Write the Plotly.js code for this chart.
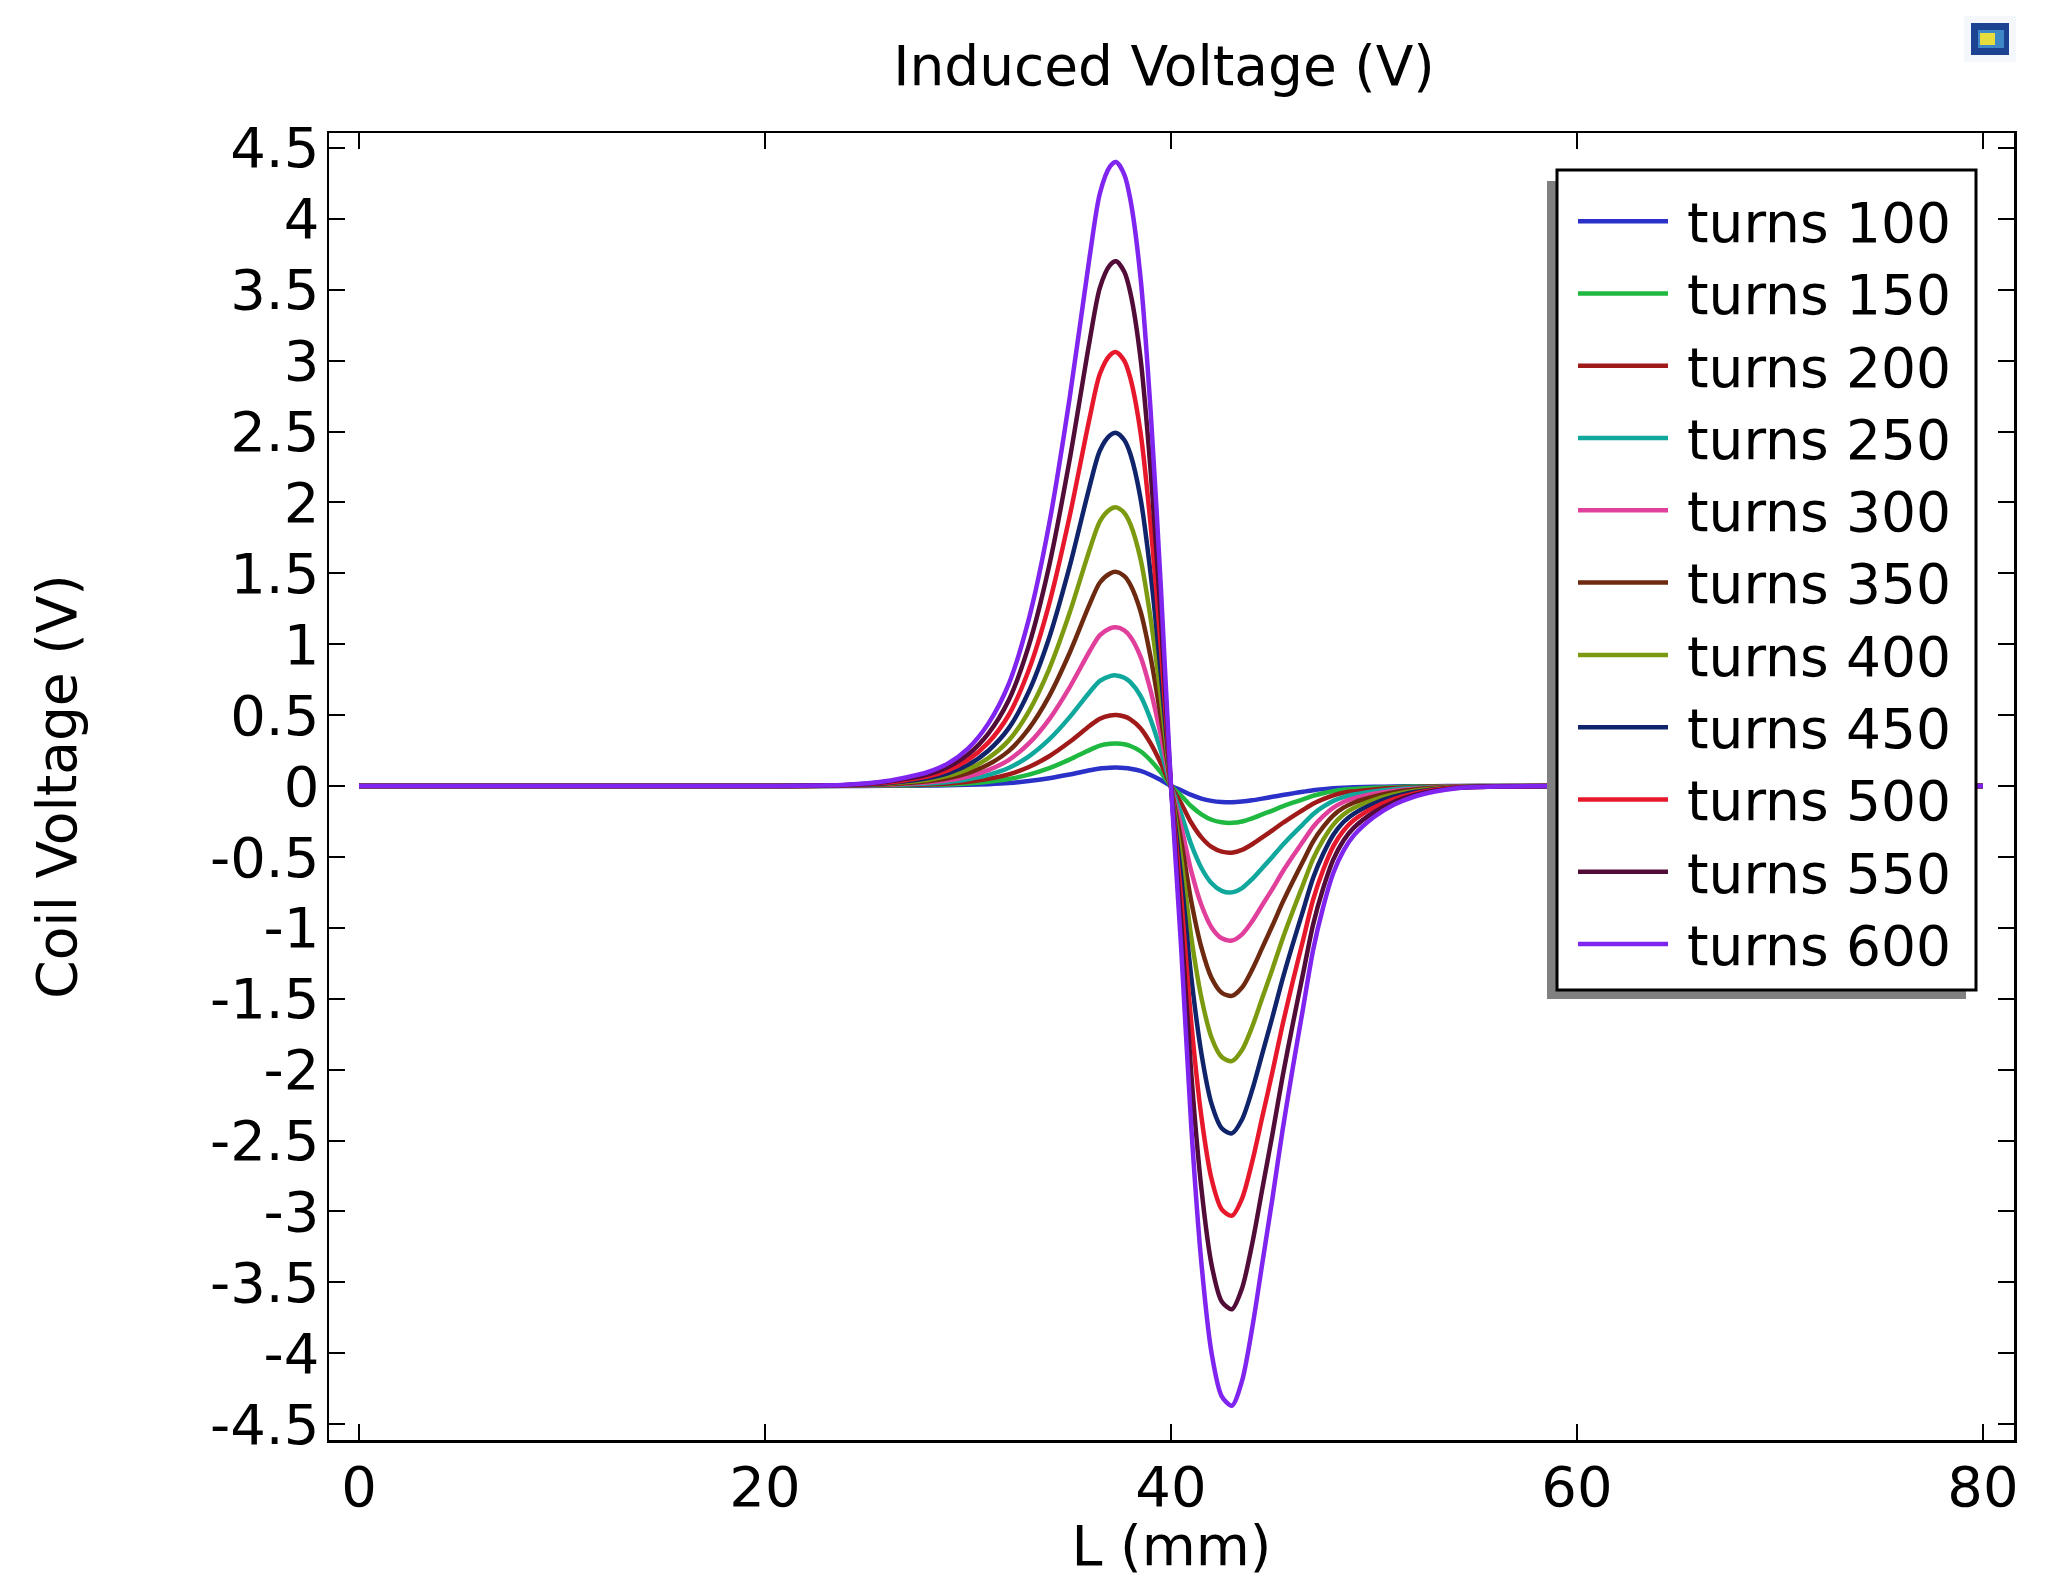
<!DOCTYPE html>
<html>
<head>
<meta charset="utf-8">
<script src="https://cdn.plot.ly/plotly-3.0.1.min.js"></script>
<style>html,body{margin:0;padding:0;background:#fff}#chart{width:2070px;height:1594px}</style>
</head>
<body>
<div id="chart"></div>
<script>
const L_mm = [0,10,20,24,26,27,28,29,30,31,32,33,34,35,36,36.5,37,37.3,37.7,38,38.5,39,39.5,40,40.5,41,41.5,42,42.5,43,43.5,44,44.5,45,45.5,46,46.5,47,47.5,48,48.5,49,50,51,52,53,54,56,60,70,80];

const turns100 = [0,0,0,0,.001,.002,.003,.005,.008,.013,.021,.035,.055,.081,.111,.124,.129,.13,.127,.122,.106,.078,.042,0,-.03,-.063,-.089,-.105,-.113,-.115,-.11,-.101,-.089,-.076,-.064,-.052,-.041,-.03,-.022,-.016,-.012,-.009,-.006,-.003,-.002,-.001,0,0,0,0,0];
const turns150 = [0,0,0,.001,.002,.004,.007,.011,.018,.03,.049,.08,.126,.186,.255,.285,.298,.30,.294,.282,.245,.18,.096,0,-.068,-.143,-.20,-.238,-.256,-.26,-.25,-.228,-.20,-.173,-.144,-.118,-.094,-.069,-.051,-.036,-.026,-.021,-.013,-.008,-.004,-.002,-.001,0,0,0,0];
const turns200 = [0,0,0,.001,.004,.007,.011,.018,.03,.05,.082,.134,.21,.31,.425,.475,.497,.50,.49,.47,.408,.30,.16,0,-.122,-.259,-.362,-.43,-.463,-.47,-.451,-.411,-.362,-.313,-.261,-.214,-.169,-.125,-.092,-.066,-.047,-.038,-.024,-.014,-.008,-.004,-.002,0,0,0,0];
const turns250 = [0,0,0,.002,.006,.011,.017,.028,.047,.078,.127,.209,.328,.484,.663,.741,.775,.78,.764,.733,.636,.468,.25,0,-.195,-.413,-.578,-.686,-.739,-.75,-.72,-.656,-.578,-.499,-.416,-.341,-.27,-.199,-.146,-.105,-.078,-.06,-.038,-.023,-.013,-.007,-.003,-.001,0,0,0];
const turns300 = [0,0,0,.002,.009,.016,.025,.04,.067,.112,.183,.30,.47,.694,.952,1.064,1.112,1.12,1.098,1.053,.913,.672,.358,0,-.283,-.60,-.839,-.997,-1.074,-1.09,-1.046,-.954,-.839,-.725,-.605,-.496,-.392,-.289,-.213,-.153,-.113,-.087,-.055,-.033,-.019,-.01,-.004,-.001,0,0,0];
const turns350 = [0,0,0,.003,.012,.021,.033,.054,.091,.151,.246,.405,.634,.936,1.284,1.435,1.499,1.51,1.48,1.419,1.231,.906,.483,0,-.385,-.814,-1.14,-1.354,-1.458,-1.48,-1.421,-1.295,-1.14,-.984,-.821,-.673,-.533,-.392,-.289,-.207,-.153,-.118,-.074,-.044,-.025,-.013,-.006,-.001,0,0,0];
const turns400 = [0,0,0,.004,.016,.028,.043,.071,.118,.197,.32,.527,.825,1.218,1.67,1.867,1.951,1.965,1.926,1.847,1.601,1.179,.629,0,-.504,-1.067,-1.494,-1.775,-1.911,-1.94,-1.862,-1.698,-1.494,-1.29,-1.077,-.883,-.698,-.514,-.378,-.272,-.201,-.155,-.097,-.058,-.033,-.017,-.008,-.002,0,0,0];
const turns450 = [0,0,0,.005,.02,.035,.055,.09,.149,.249,.406,.667,1.046,1.544,2.117,2.366,2.473,2.49,2.44,2.341,2.029,1.494,.797,0,-.637,-1.348,-1.887,-2.242,-2.413,-2.45,-2.352,-2.144,-1.887,-1.629,-1.36,-1.115,-.882,-.649,-.478,-.343,-.254,-.196,-.123,-.074,-.042,-.022,-.01,-.002,0,0,0];
const turns500 = [0,0,0,.006,.024,.043,.067,.11,.184,.306,.499,.82,1.285,1.897,2.601,2.907,3.039,3.06,2.999,2.876,2.494,1.836,.979,0,-.788,-1.667,-2.333,-2.772,-2.985,-3.03,-2.909,-2.651,-2.333,-2.015,-1.682,-1.379,-1.091,-.803,-.591,-.424,-.315,-.242,-.152,-.091,-.052,-.027,-.012,-.003,0,0,0];
const turns550 = [0,0,0,.007,.03,.052,.081,.133,.222,.37,.603,.992,1.554,2.294,3.145,3.515,3.674,3.70,3.626,3.478,3.016,2.22,1.184,0,-.959,-2.03,-2.841,-3.376,-3.635,-3.69,-3.542,-3.229,-2.841,-2.454,-2.048,-1.679,-1.328,-.978,-.72,-.517,-.384,-.295,-.185,-.111,-.063,-.033,-.015,-.004,0,0,0];
const turns600 = [0,0,0,.009,.035,.062,.097,.158,.264,.44,.717,1.179,1.848,2.728,3.74,4.18,4.369,4.40,4.312,4.136,3.586,2.64,1.408,0,-1.136,-2.404,-3.365,-3.999,-4.304,-4.37,-4.195,-3.824,-3.365,-2.906,-2.425,-1.988,-1.573,-1.158,-.852,-.612,-.455,-.35,-.219,-.131,-.074,-.039,-.017,-.004,0,0,0];

const seriesNames = ['turns 100','turns 150','turns 200','turns 250','turns 300','turns 350','turns 400','turns 450','turns 500','turns 550','turns 600'];
const seriesValues = [turns100,turns150,turns200,turns250,turns300,turns350,turns400,turns450,turns500,turns550,turns600];
const seriesColors = ['#2a30c8','#1fb840','#a01a1a','#10a89c','#e0409c','#6e2a10','#7c9a10','#10246c','#e8182c','#520c38','#8024f0'];

const xTickVals = [0,20,40,60,80];
const xTickText = ['0','20','40','60','80'];
const yTickVals = [4.5,4,3.5,3,2.5,2,1.5,1,0.5,0,-0.5,-1,-1.5,-2,-2.5,-3,-3.5,-4,-4.5];
const yTickText = ['4.5','4','3.5','3','2.5','2','1.5','1','0.5','0','-0.5','-1','-1.5','-2','-2.5','-3','-3.5','-4','-4.5'];

const W = 2070, H = 1594, ml = 329, mr = 56, mt = 133, mb = 154;
const FONT = '"DejaVu Sans", sans-serif';
const px = v => (v - ml) / (W - ml - mr);
const py = v => 1 - (v - mt) / (H - mt - mb);
const box = (x0, y0, x1, y1, fill, line) => ({
  type:'rect', xref:'paper', yref:'paper', layer:'above',
  x0:px(x0), x1:px(x1), y0:py(y0), y1:py(y1),
  fillcolor:fill, line: line ? {color:line, width:3} : {width:0}
});

const traces = seriesNames.map((n,i) => ({
  type:'scatter', mode:'lines', name:n, x:L_mm, y:seriesValues[i],
  line:{color:seriesColors[i], width:4.5, shape:'spline', smoothing:0.8}
}));

const axisCommon = {
  showgrid:false, zeroline:false, showline:true, linecolor:'#000', linewidth:2.5,
  mirror:'ticks', ticks:'inside', ticklen:16, tickwidth:2, tickcolor:'#000',
  tickmode:'array', tickfont:{family:FONT, size:56, color:'#000'}
};

const layout = {
  width:W, height:H, margin:{l:ml, r:mr, t:mt, b:mb}, autosize:false,
  paper_bgcolor:'#fff', plot_bgcolor:'#fff', font:{family:FONT, color:'#000'},
  title:{text:'Induced Voltage (V)', font:{family:FONT, size:55, color:'#000'},
         xref:'paper', x:px(1164), xanchor:'center', yref:'container', y:1-66/H, yanchor:'middle'},
  xaxis:Object.assign({}, axisCommon, {range:[-1.478,81.53], tickvals:xTickVals, ticktext:xTickText,
         ticklabelstandoff:-4, title:{text:'L (mm)', font:{family:FONT, size:55.5, color:'#000'}, standoff:0}}),
  yaxis:Object.assign({}, axisCommon, {range:[-4.612,4.605], tickvals:yTickVals, ticktext:yTickText,
         ticklabelstandoff:-4, title:{text:'Coil Voltage (V)', font:{family:FONT, size:55, color:'#000'}, standoff:116}}),
  legend:{x:px(1573), xanchor:'left', y:py(180), yanchor:'top', bgcolor:'rgba(0,0,0,0)', borderwidth:0,
          font:{family:FONT, size:53.3, color:'#000'}, itemwidth:90, traceorder:'normal'},
  shapes:[
    box(1547,181,1966,999,'#808080'),
    box(1557,170,1976,990,'#ffffff','#000'),
    box(1964,16,2016,62,'#f4f7fc'),
    box(1971,23,2009,55,'#1c4391'),
    box(1978,30,2004,48,'#3f88c8'),
    box(1980,33,1995,45,'#e6dc3c')
  ],
  showlegend:true
};

Plotly.newPlot('chart', traces, layout, {displayModeBar:false, staticPlot:true}).then(() => {
  document.querySelectorAll('#chart .legend [clip-path]').forEach(el => el.removeAttribute('clip-path'));
  document.querySelectorAll('#chart .legendtext').forEach(t => {
    t.style.fontSize = '55px';
    t.setAttribute('x', parseFloat(t.getAttribute('x')) + 14);
  });
  const xt = document.querySelector('#chart .xtitle');
  if (xt) xt.setAttribute('transform', 'translate(0,-6)');
});
</script>
</body>
</html>
